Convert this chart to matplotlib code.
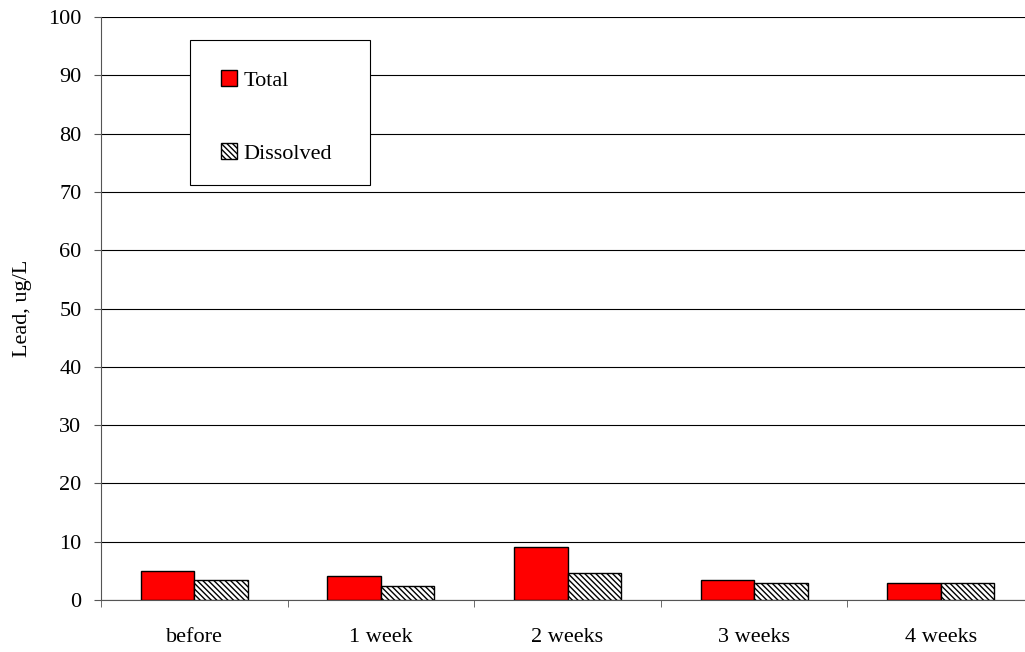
import matplotlib.pyplot as plt
import numpy as np
from matplotlib.patches import Patch, Rectangle

plt.rcParams['font.family'] = ['Liberation Serif', 'DejaVu Serif']
plt.rcParams['hatch.linewidth'] = 1.0

categories = ['before', '1 week', '2 weeks', '3 weeks', '4 weeks']
total = [5.0, 4.2, 9.1, 3.5, 3.0]
dissolved = [3.4, 2.45, 4.7, 3.0, 2.85]

fig = plt.figure(figsize=(10.25, 6.52), dpi=100)
# plot area runs a little past the right edge of the image, as in the original
ax = fig.add_axes([101 / 1025, 52 / 652, 933 / 1025, 583 / 652])

x = np.arange(len(categories))
w = 0.287
hatch = '\\' * 6
ax.bar(x - w / 2, total, w, color='#ff0000', edgecolor='black', linewidth=1.0,
       zorder=3, label='Total')
ax.bar(x + w / 2, dissolved, w, color='white', edgecolor='black', linewidth=1.0,
       hatch=hatch, zorder=3, label='Dissolved')

ax.set_xlim(-0.5, len(categories) - 0.5)
ax.set_ylim(0, 100)
ax.set_yticks(np.arange(0, 101, 10))
ax.yaxis.grid(True, color='black', linewidth=0.8)
ax.set_axisbelow(True)

ax.set_xticks(x)
ax.set_xticklabels(categories, fontsize=16)
ax.set_xticks(np.arange(-0.5, len(categories), 1), minor=True)
ax.tick_params(axis='x', which='major', length=0, pad=20)
ax.tick_params(axis='x', which='minor', length=5, direction='out', color='#555555')
ax.tick_params(axis='y', length=5, direction='out', pad=9, labelsize=16, color='#555555')

for s in ['top', 'right']:
    ax.spines[s].set_visible(False)
for s in ['left', 'bottom']:
    ax.spines[s].set_color('#555555')

ax.set_ylabel('Lead, ug/L', fontsize=16, labelpad=12)

# legend box drawn separately so its size matches the original
box = Rectangle((190 / 1025, 1 - 185 / 652), 180 / 1025, 145 / 652, transform=fig.transFigure,
                facecolor='white', edgecolor='black', linewidth=0.8, zorder=5, clip_on=False)
ax.add_patch(box)

handles = [Patch(facecolor='#ff0000', edgecolor='black', label='Total'),
           Patch(facecolor='white', edgecolor='black', hatch=hatch, label='Dissolved')]
leg = ax.legend(handles=handles, loc='upper left', bbox_to_anchor=(221 / 1025, 1 - 70 / 652),
                bbox_transform=fig.transFigure, fontsize=16, frameon=False,
                labelspacing=2.35, borderpad=0,
                handlelength=0.72, handleheight=0.72, handletextpad=0.28, borderaxespad=0)
leg.set_zorder(6)

fig.savefig('out.png', dpi=100)
